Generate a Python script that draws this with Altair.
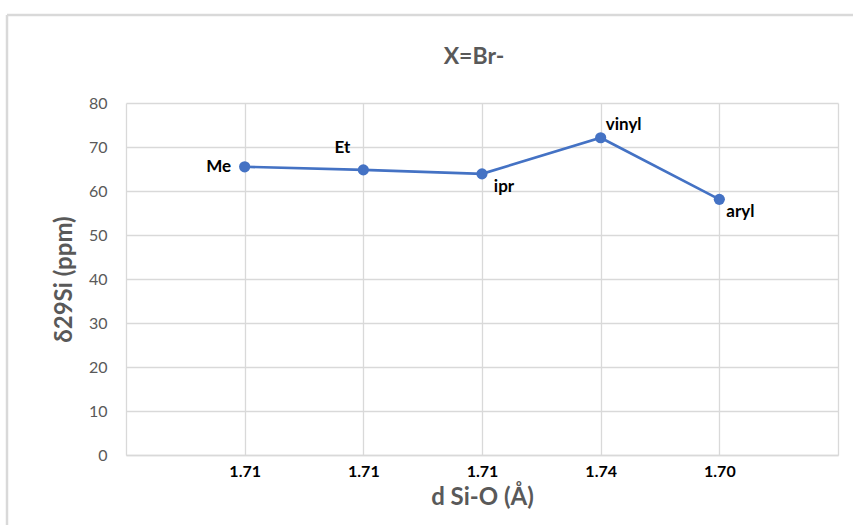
import altair as alt
import pandas as pd

positions = [1, 2, 3, 4, 5]
tick_labels = ["1.71", "1.71", "1.71", "1.74", "1.70"]
groups = ["Me", "Et", "ipr", "vinyl", "aryl"]
shifts = [65.5, 64.8, 63.9, 72.1, 58.1]
label_dx = [-26, -21, 22, 23, 21]
label_dy = [0, -22, 13, -13, 13]
chart_title = ["X=Br-"]

df = pd.DataFrame({"pos": positions, "lab": tick_labels, "grp": groups,
                   "val": shifts, "dx": label_dx, "dy": label_dy})
title_df = pd.DataFrame({"t": chart_title})

label_map = "{" + ",".join(f"'{p}':'{l}'" for p, l in zip(positions, tick_labels)) + "}"
FONT = "Lato"
BLUE = "#4472C4"
GRID = "#D9D9D9"

x = alt.X("pos:Q", scale=alt.Scale(domain=[0, 6], nice=False),
          axis=alt.Axis(values=[1, 2, 3, 4, 5, 6], labelExpr=f"datum.value == 6 ? '' : {label_map}[datum.value]",
                        title="d Si-O (Å)", grid=True, gridColor=GRID, gridWidth=1.3,
                        domain=True, domainColor=GRID, domainWidth=1.3, ticks=False,
                        labelFont=FONT, labelFontSize=16, labelFontWeight="bold", labelColor="#000000",
                        labelPadding=8, titleFont=FONT, titleFontSize=24, titleFontWeight="bold",
                        titleColor="#595959", titlePadding=6))
y = alt.Y("val:Q", scale=alt.Scale(domain=[0, 80], nice=False),
          axis=alt.Axis(values=list(range(0, 81, 10)), title="δ29Si (ppm)", grid=True,
                        gridColor=GRID, gridWidth=1.3, domain=True, domainColor=GRID, domainWidth=1.3,
                        ticks=False, labelFont=FONT, labelFontSize=16, labelColor="#595959",
                        labelPadding=19, titleFont=FONT, titleFontSize=24, titleFontWeight="bold",
                        titleColor="#595959", titlePadding=12))

base = alt.Chart(df)
line = base.mark_line(color=BLUE, strokeWidth=2.6).encode(x=x, y=y)
pts = base.mark_point(color=BLUE, filled=True, size=125, opacity=1).encode(x="pos:Q", y="val:Q")

texts = []
for i, r in df.iterrows():
    t = alt.Chart(df.iloc[[i]]).mark_text(font=FONT, fontSize=17, fontWeight="bold", color="#000000",
                                          dx=int(r.dx), dy=int(r.dy)).encode(x="pos:Q", y="val:Q", text="grp:N")
    texts.append(t)

# chart title drawn as a text mark so the chart-area frame does not push it away
title = alt.Chart(title_df).mark_text(font=FONT, fontSize=23, fontWeight="bold", color="#595959",
                                      baseline="middle", align="center").encode(
    x=alt.value(348), y=alt.value(-46), text="t:N")

# outer chart frame (Excel chart-area border)
frame_top = alt.Chart(title_df).mark_rule(color=GRID, strokeWidth=2.5).encode(
    x=alt.value(-119), x2=alt.value(740), y=alt.value(-88))
frame_left = alt.Chart(title_df).mark_rule(color=GRID, strokeWidth=2.5).encode(
    x=alt.value(-119), y=alt.value(-88), y2=alt.value(440))

chart = alt.layer(frame_top, frame_left, title, line, pts, *texts).properties(
    width=712, height=352,
    autosize=alt.AutoSizeParams(type="none"),
    padding={"left": 126, "top": 103, "right": 15, "bottom": 70},
).configure_view(stroke=None)

chart.save("out.html", embed_options={"renderer": "svg", "actions": False})
